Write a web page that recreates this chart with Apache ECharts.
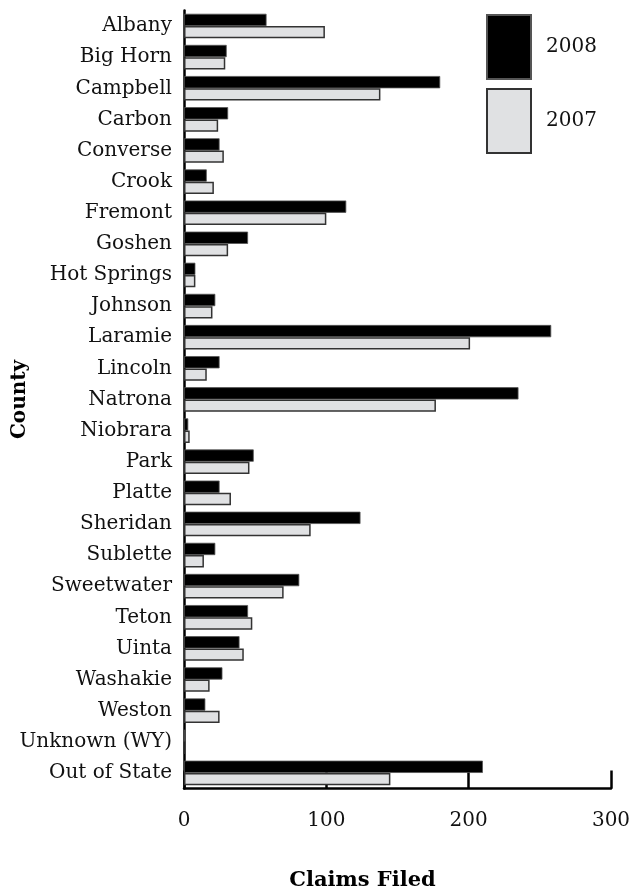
<!DOCTYPE html>
<html>
<head>
<meta charset="utf-8">
<script src="https://cdn.jsdelivr.net/npm/echarts@6/dist/echarts.min.js"></script>
<style>html,body{margin:0;padding:0;background:#fff}#c{width:631px;height:888px}</style>
</head>
<body>
<div id="c"></div>
<script>
const counties = ["Albany","Big Horn","Campbell","Carbon","Converse","Crook","Fremont","Goshen","Hot Springs","Johnson","Laramie","Lincoln","Natrona","Niobrara","Park","Platte","Sheridan","Sublette","Sweetwater","Teton","Uinta","Washakie","Weston","Unknown (WY)","Out of State"];
const claims2008 = [58,30,180,31,25,16,114,45,8,22,258,25,235,3,49,25,124,22,81,45,39,27,15,1,210];
const claims2007 = [99,29,138,24,28,21,100,31,8,20,201,16,177,4,46,33,89,14,70,48,42,18,25,0,145];
const xTicks = [0,100,200,300];

const font = "DejaVu Serif";
const chart = echarts.init(document.getElementById('c'));
chart.setOption({
  animation: false,
  backgroundColor: '#fff',
  grid: {left: 184, right: 20, top: 10.5, bottom: 99.5, containLabel: false, outerBoundsMode: 'none'},
  legend: {
    orient: 'vertical', left: 486, top: 14, padding: 0,
    itemWidth: 44, itemHeight: 64, itemGap: 8,
    data: ['2008','2007'],
    textStyle: {fontFamily: font, fontSize: 20, color: '#111', padding: [0,0,0,10]},
    icon: 'rect'
  },
  xAxis: {
    type: 'value', min: xTicks[0], max: xTicks[xTicks.length-1], interval: 100,
    name: 'Claims Filed', nameLocation: 'middle', nameGap: 82, nameMoveOverlap: false,
    nameTextStyle: {fontFamily: font, fontSize: 21, fontWeight: 'bold', color: '#000', padding: [0,70,0,0]},
    axisLine: {show: true, lineStyle: {color: '#000', width: 2.5}},
    axisTick: {show: true, inside: true, length: 18, lineStyle: {color: '#000', width: 2.5}},
    axisLabel: {fontFamily: font, fontSize: 20, color: '#111', margin: 22},
    splitLine: {show: false}
  },
  yAxis: {
    type: 'category', data: counties, inverse: true,
    name: 'County', nameLocation: 'middle', nameGap: 154, nameRotate: 90, nameMoveOverlap: false,
    nameTextStyle: {fontFamily: font, fontSize: 20, fontWeight: 'bold', color: '#000'},
    axisLine: {show: true, lineStyle: {color: '#000', width: 2.5}},
    axisTick: {show: false},
    axisLabel: {fontFamily: font, fontSize: 20, color: '#111', margin: 12}
  },
  series: [
    {name: '2008', type: 'bar', data: claims2008, barGap: '0%', barCategoryGap: '21%',
     itemStyle: {color: '#000', borderColor: '#555', borderWidth: 0.8}},
    {name: '2007', type: 'bar', data: claims2007, barGap: '0%', barCategoryGap: '21%',
     itemStyle: {color: '#e0e1e3', borderColor: '#333', borderWidth: 1.5}}
  ]
});
</script>
</body>
</html>
